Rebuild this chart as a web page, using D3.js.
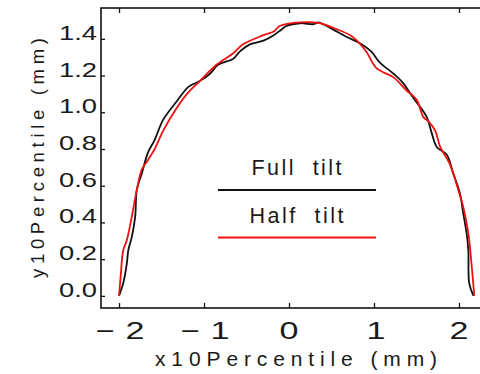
<!DOCTYPE html>
<html>
<head>
<meta charset="utf-8">
<script src="https://cdn.jsdelivr.net/npm/d3@7"></script>
<style>
  body { margin: 0; background: #fff; }
  text { font-family: "Liberation Sans", Arial, sans-serif; fill: #1a1a1a; }
</style>
</head>
<body>
<div id="chart"></div>
<script>

// Full tilt (black) profile, x / y in mm
var fullX = [-2.00, -1.95, -1.91, -1.89, -1.85, -1.81, -1.79, -1.73, -1.66, -1.58, -1.48, -1.32, -1.18, -1.05, -0.93, -0.83, -0.66, -0.58, -0.46, -0.30, -0.18, -0.09, -0.03, 0.13, 0.29, 0.34, 0.52, 0.68, 0.84, 0.97, 1.07, 1.23, 1.34, 1.46, 1.62, 1.68, 1.74, 1.855, 1.93, 2.01, 2.05, 2.09, 2.11, 2.12, 2.17];
var fullY = [0.00, 0.07, 0.17, 0.25, 0.32, 0.43, 0.58, 0.67, 0.78, 0.85, 0.96, 1.06, 1.14, 1.17, 1.21, 1.26, 1.29, 1.33, 1.37, 1.39, 1.42, 1.45, 1.47, 1.485, 1.48, 1.49, 1.45, 1.41, 1.375, 1.33, 1.27, 1.21, 1.16, 1.08, 0.975, 0.885, 0.81, 0.77, 0.67, 0.56, 0.45, 0.34, 0.25, 0.07, 0.00];

// Half tilt (red) profile
var halfX = [-2.00, -1.98, -1.95, -1.91, -1.85, -1.79, -1.73, -1.66, -1.58, -1.48, -1.34, -1.20, -1.05, -0.85, -0.66, -0.54, -0.30, -0.18, -0.11, 0.13, 0.36, 0.52, 0.72, 0.80, 0.91, 1.03, 1.23, 1.38, 1.50, 1.58, 1.64, 1.72, 1.78, 1.89, 1.99, 2.05, 2.11, 2.15, 2.18];
var halfY = [0.00, 0.11, 0.25, 0.30, 0.43, 0.58, 0.69, 0.74, 0.80, 0.90, 1.01, 1.10, 1.17, 1.26, 1.32, 1.37, 1.42, 1.44, 1.47, 1.49, 1.485, 1.46, 1.42, 1.39, 1.33, 1.24, 1.19, 1.12, 1.07, 0.975, 0.95, 0.90, 0.81, 0.72, 0.58, 0.485, 0.34, 0.16, 0.00];

var xTicks = [-2, -1, 0, 1, 2];
var yTicks = [0.0, 0.2, 0.4, 0.6, 0.8, 1.0, 1.2, 1.4];

var seriesNames = ["Full  tilt", "Half  tilt"];
var seriesColors = ["#111", "#f01010"];

var W = 480, H = 374;
var margin = { top: 8, left: 101 };
var plotW = 384, plotH = 300;

var svg = d3.select("#chart").append("svg")
    .attr("width", W)
    .attr("height", H);

var g = svg.append("g")
    .attr("transform", "translate(" + margin.left + "," + margin.top + ")");

// Scales
var x = d3.scaleLinear()
    .domain([-2.212, 2.306])
    .range([0, plotW]);

var y = d3.scaleLinear()
    .domain([-0.066, 1.568])
    .range([plotH, 0]);

// Frame
g.append("rect")
    .attr("x", 0).attr("y", 0)
    .attr("width", plotW).attr("height", plotH)
    .attr("fill", "none")
    .attr("stroke", "#111")
    .attr("stroke-width", 1.6);

// Ticks (inward), drawn with d3 axes
var xBottom = d3.axisBottom(x).tickValues(xTicks).tickSize(-5).tickFormat("");
var xTop = d3.axisTop(x).tickValues(xTicks).tickSize(-5).tickFormat("");
var yLeft = d3.axisLeft(y).tickValues(yTicks).tickSize(-4).tickFormat("");

g.append("g").attr("class", "x-axis axis")
    .attr("transform", "translate(0," + plotH + ")")
    .call(xBottom);
g.append("g").attr("class", "x-axis-top axis").call(xTop);
g.append("g").attr("class", "y-axis axis").call(yLeft);

g.selectAll(".axis .domain").remove();
g.selectAll(".axis line").attr("stroke", "#111").attr("stroke-width", 1.3);

// x tick labels
xTicks.forEach(function(t) {
  var cx = x(t);
  var digit = String(Math.abs(t));
  if (t < 0) {
    g.append("text")
        .attr("x", cx - 14).attr("y", plotH + 30.5)
        .attr("text-anchor", "middle")
        .attr("font-size", 24)
        .attr("textLength", 19).attr("lengthAdjust", "spacingAndGlyphs")
        .text("\u2212");
    g.append("text")
        .attr("x", cx + 16).attr("y", plotH + 30.5)
        .attr("text-anchor", "middle")
        .attr("font-size", 24.5)
        .attr("textLength", 19).attr("lengthAdjust", "spacingAndGlyphs")
        .text(digit);
  } else {
    g.append("text")
        .attr("x", cx + (t == 1 ? 2 : 0)).attr("y", plotH + 30.5)
        .attr("text-anchor", "middle")
        .attr("font-size", 24.5)
        .attr("textLength", 19).attr("lengthAdjust", "spacingAndGlyphs")
        .text(digit);
  }
});

// y tick labels
yTicks.forEach(function(t) {
  g.append("text")
      .attr("x", -4).attr("y", y(t) + 1)
      .attr("text-anchor", "end")
      .attr("font-size", 20)
      .attr("textLength", 38).attr("lengthAdjust", "spacingAndGlyphs")
      .text(t.toFixed(1));
});

// Axis titles
svg.append("text")
    .attr("x", 296).attr("y", 365.5)
    .attr("text-anchor", "middle")
    .attr("font-size", 21)
    .attr("textLength", 282).attr("lengthAdjust", "spacing")
    .text("x10Percentile (mm)");

svg.append("text")
    .attr("transform", "translate(43.5,158) rotate(-90)")
    .attr("text-anchor", "middle")
    .attr("font-size", 18.5)
    .attr("textLength", 240).attr("lengthAdjust", "spacing")
    .text("y10Percentile (mm)");

// Curves
var line = d3.line()
    .x(function(d) { return x(d[0]); })
    .y(function(d) { return y(d[1]); })
    .curve(d3.curveCatmullRom.alpha(0.5));

var series = [d3.zip(fullX, fullY), d3.zip(halfX, halfY)];

series.forEach(function(s, i) {
  g.append("path")
      .datum(s)
      .attr("fill", "none")
      .attr("stroke", seriesColors[i])
      .attr("stroke-width", 1.8)
      .attr("stroke-linejoin", "round")
      .attr("d", line);
});

// Legend
var legendY = [175, 222.5];
var lineY = [190, 237.5];
seriesNames.forEach(function(name, i) {
  svg.append("text")
      .attr("x", 296.5).attr("y", legendY[i])
      .attr("text-anchor", "middle")
      .attr("font-size", 21.5)
      .attr("textLength", i == 0 ? 90 : 94).attr("lengthAdjust", "spacing")
      .attr("xml:space", "preserve")
      .style("white-space", "pre")
      .text(name);
  svg.append("line")
      .attr("x1", 218).attr("x2", 376)
      .attr("y1", lineY[i]).attr("y2", lineY[i])
      .attr("stroke", seriesColors[i])
      .attr("stroke-width", 1.8);
});

</script>
</body>
</html>
